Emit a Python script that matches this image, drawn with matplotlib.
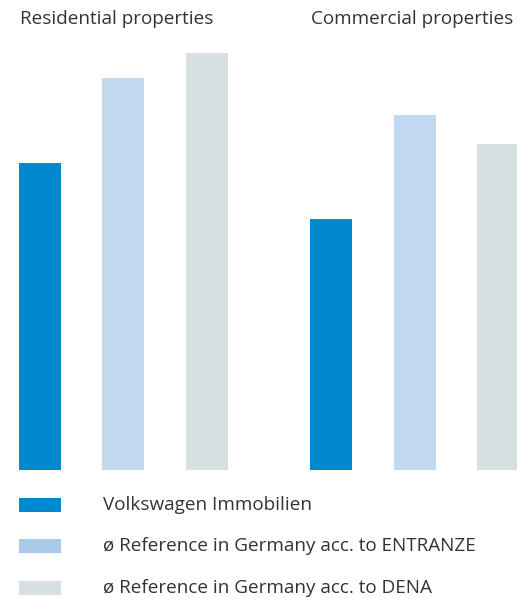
import matplotlib
matplotlib.use("Agg")
import matplotlib.pyplot as plt
from matplotlib.patches import Rectangle

groups = ["Residential properties", "Commercial properties"]
series = ["Volkswagen Immobilien",
          "ø Reference in Germany acc. to ENTRANZE",
          "ø Reference in Germany acc. to DENA"]
values = {
    "Volkswagen Immobilien": [307, 251],
    "ø Reference in Germany acc. to ENTRANZE": [392, 355],
    "ø Reference in Germany acc. to DENA": [417, 326],
}
bar_colors = ["#0089cf", "#c2d9f2", "#d7dfe3"]
legend_colors = ["#0089cf", "#a9cbe9", "#d7dfe3"]

plt.rcParams['font.family'] = ['Open Sans', 'DejaVu Sans']
W, H = 517, 598
fig = plt.figure(figsize=(W / 100, H / 100), dpi=100)
ax = fig.add_axes([0, 1 - 470 / H, 1, 470 / H])
group_gap = 3.49
for si, s in enumerate(series):
    xs = [gi * group_gap + si for gi in range(len(groups))]
    ax.bar(xs, values[s], width=0.503, color=bar_colors[si], linewidth=0)
ax.set_xlim(-0.479, 5.713)
ax.set_ylim(0, 470)
ax.axis("off")

FS = 13.6
title_x = [20, 311]
for gi, g in enumerate(groups):
    fig.text(title_x[gi] / W, 1 - 24 / H, g, fontsize=FS, color="#333333",
             ha="left", va="baseline")

sw_y = [505, 546, 588]
for si, s in enumerate(series):
    yc = sw_y[si]
    fig.add_artist(Rectangle((19 / W, 1 - (yc + 7) / H), 42 / W, 14 / H,
                             transform=fig.transFigure, color=legend_colors[si],
                             linewidth=0))
    fig.text(103 / W, 1 - yc / H, s, fontsize=FS, color="#333333",
             ha="left", va="center")

fig.savefig("out.png", dpi=100)
